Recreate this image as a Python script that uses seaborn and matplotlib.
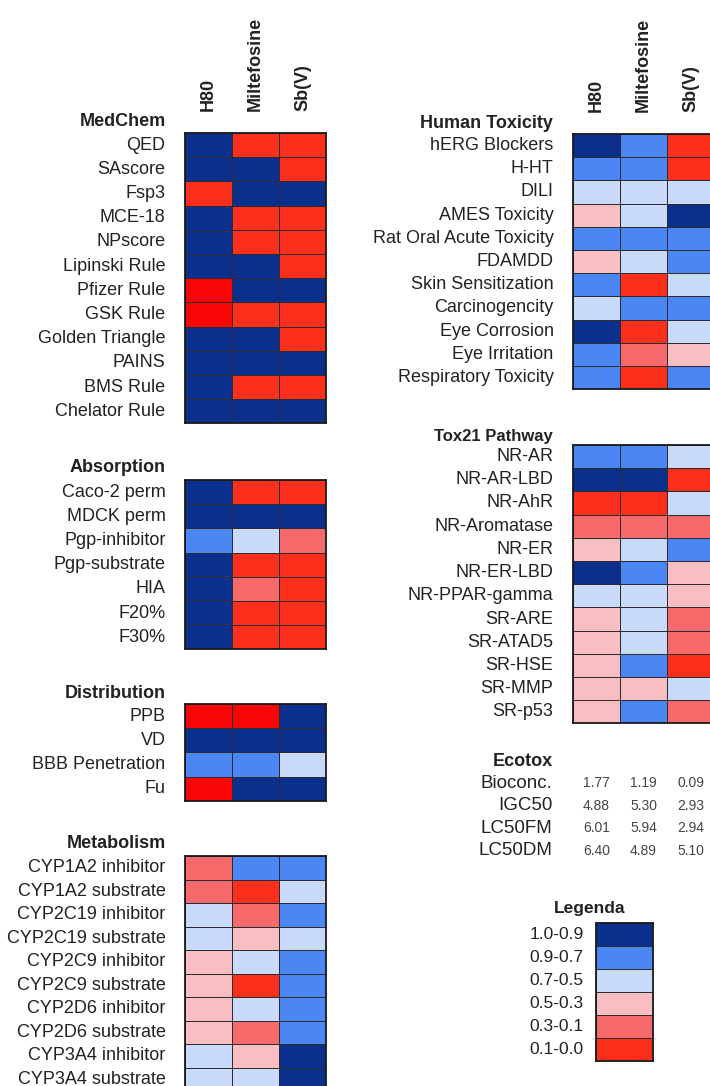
import pandas as pd
import seaborn as sns
import matplotlib.pyplot as plt
from matplotlib.colors import ListedColormap, BoundaryNorm

# probability classes (1.0-0.9 ... 0.1-0.0); 0.0 marks the few pure-red cells
D, M, L, P, S, R, RR = 0.95, 0.8, 0.6, 0.4, 0.2, 0.05, 0.0

compounds = ["H80", "Miltefosine", "Sb(V)"]

medchem_rows = ["QED", "SAscore", "Fsp3", "MCE-18", "NPscore", "Lipinski Rule",
                "Pfizer Rule", "GSK Rule", "Golden Triangle", "PAINS", "BMS Rule",
                "Chelator Rule"]
medchem_vals = [[D, R, R], [D, D, R], [R, D, D], [D, R, R], [D, R, R], [D, D, R],
                [RR, D, D], [RR, R, R], [D, D, R], [D, D, D], [D, R, R], [D, D, D]]

absorption_rows = ["Caco-2 perm", "MDCK perm", "Pgp-inhibitor", "Pgp-substrate",
                   "HIA", "F20%", "F30%"]
absorption_vals = [[D, R, R], [D, D, D], [M, L, S], [D, R, R], [D, S, R],
                   [D, R, R], [D, R, R]]

distribution_rows = ["PPB", "VD", "BBB Penetration", "Fu"]
distribution_vals = [[RR, RR, D], [D, D, D], [M, M, L], [RR, D, D]]

metabolism_rows = ["CYP1A2 inhibitor", "CYP1A2 substrate", "CYP2C19 inhibitor",
                   "CYP2C19 substrate", "CYP2C9 inhibitor", "CYP2C9 substrate",
                   "CYP2D6 inhibitor", "CYP2D6 substrate", "CYP3A4 inhibitor",
                   "CYP3A4 substrate"]
metabolism_vals = [[S, M, M], [S, R, L], [L, S, M], [L, P, L], [P, L, M],
                   [P, R, M], [P, L, M], [P, S, M], [L, P, D], [L, L, D]]

toxicity_rows = ["hERG Blockers", "H-HT", "DILI", "AMES Toxicity",
                 "Rat Oral Acute Toxicity", "FDAMDD", "Skin Sensitization",
                 "Carcinogencity", "Eye Corrosion", "Eye Irritation",
                 "Respiratory Toxicity"]
toxicity_vals = [[D, M, R], [M, M, R], [L, L, L], [P, L, D], [M, M, M], [P, L, M],
                 [M, R, L], [L, M, M], [D, R, L], [M, S, P], [M, R, M]]

tox21_rows = ["NR-AR", "NR-AR-LBD", "NR-AhR", "NR-Aromatase", "NR-ER", "NR-ER-LBD",
              "NR-PPAR-gamma", "SR-ARE", "SR-ATAD5", "SR-HSE", "SR-MMP", "SR-p53"]
tox21_vals = [[M, M, L], [D, D, R], [R, R, L], [S, S, S], [P, L, M], [D, M, P],
              [L, L, P], [P, L, S], [P, L, S], [P, M, R], [P, P, L], [P, M, S]]

ecotox_rows = ["Bioconc.", "IGC50", "LC50FM", "LC50DM"]
ecotox_vals = [[1.77, 1.19, 0.09], [4.88, 5.30, 2.93], [6.01, 5.94, 2.94],
               [6.40, 4.89, 5.10]]

legend_labels = ["1.0-0.9", "0.9-0.7", "0.7-0.5", "0.5-0.3", "0.3-0.1", "0.1-0.0"]
legend_vals = [D, M, L, P, S, R]

colors = ["#fa0505", "#fc2f1c", "#f76a6b", "#f9bec1", "#c8d9fa", "#4a86f4", "#0b2f8d"]
cmap = ListedColormap(colors)
norm = BoundaryNorm([-0.01, 0.01, 0.1, 0.3, 0.5, 0.7, 0.9, 1.0], cmap.N)

W, H = 710, 1086
TXT = "#222222"

sns.set_theme(style="white")
plt.rcParams["font.family"] = ["Liberation Sans", "DejaVu Sans"]

fig = plt.figure(figsize=(W / 100, H / 100), dpi=100)
fig.patch.set_facecolor("white")


def add_ax(left, top, width, height):
    return fig.add_axes([left / W, 1 - (top + height) / H, width / W, height / H])


def frame(ax):
    for sp in ax.spines.values():
        sp.set_visible(True)
        sp.set_linewidth(1.3)
        sp.set_color("#1a1a1a")


def draw_block(rows, vals, left, top, row_h, title, title_y, title_x, title_size=13,
               headers=False):
    df = pd.DataFrame(vals, index=rows, columns=compounds)
    ax = add_ax(left, top, 141, row_h * len(rows))
    sns.heatmap(df, ax=ax, cmap=cmap, norm=norm, cbar=False, linewidths=0.7,
                linecolor="#2b2b2b", xticklabels=headers, yticklabels=True)
    ax.tick_params(axis="y", length=0, pad=14, labelsize=13, labelcolor=TXT)
    for lab in ax.get_yticklabels():
        lab.set_rotation(0)
        lab.set_ha("right")
    if headers:
        ax.xaxis.tick_top()
        ax.tick_params(axis="x", length=0, pad=16, labelsize=13, labelcolor=TXT)
        for lab in ax.get_xticklabels():
            lab.set_rotation(90)
            lab.set_fontweight("bold")
            lab.set_va("bottom")
            lab.set_ha("center")
    ax.set_xlabel("")
    ax.set_ylabel("")
    frame(ax)
    fig.text(title_x / W, 1 - title_y / H, title, ha="right", va="center",
             fontsize=title_size, fontweight="bold", color=TXT)
    return ax


# left column
draw_block(medchem_rows, medchem_vals, 185, 133, 24.2, "MedChem", 122, 166, headers=True)
draw_block(absorption_rows, absorption_vals, 185, 480, 24.2, "Absorption", 468, 166)
draw_block(distribution_rows, distribution_vals, 185, 704, 24.2, "Distribution", 693, 166)
draw_block(metabolism_rows, metabolism_vals, 185, 856, 23.5, "Metabolism", 843, 166)

# right column
draw_block(toxicity_rows, toxicity_vals, 573, 134, 23.2, "Human Toxicity", 123, 553,
           headers=True)
draw_block(tox21_rows, tox21_vals, 573, 445, 23.2, "Tox21 Pathway", 436, 553,
           title_size=12)

# ecotox values (plain text table)
eco = pd.DataFrame(ecotox_vals, index=ecotox_rows, columns=compounds)
ax_e = add_ax(573, 772, 141, 22.5 * len(ecotox_rows))
sns.heatmap(eco, ax=ax_e, cmap=ListedColormap(["white"]), cbar=False, annot=True,
            fmt=".2f", annot_kws={"size": 10, "color": "#444444"},
            xticklabels=False, yticklabels=True)
ax_e.tick_params(axis="y", length=0, pad=15, labelsize=13.5, labelcolor=TXT)
for lab in ax_e.get_yticklabels():
    lab.set_rotation(0)
    lab.set_ha("right")
ax_e.set_xlabel("")
ax_e.set_ylabel("")
fig.text(553 / W, 1 - 761 / H, "Ecotox", ha="right", va="center", fontsize=13,
         fontweight="bold", color=TXT)

# legend
leg = pd.DataFrame({"v": legend_vals}, index=legend_labels)
ax_l = add_ax(596, 923, 57, 23 * len(legend_labels))
sns.heatmap(leg, ax=ax_l, cmap=cmap, norm=norm, cbar=False, linewidths=0.7,
            linecolor="#2b2b2b", xticklabels=False, yticklabels=True)
ax_l.tick_params(axis="y", length=0, pad=9, labelsize=12.5, labelcolor=TXT)
for lab in ax_l.get_yticklabels():
    lab.set_rotation(0)
    lab.set_ha("right")
ax_l.set_xlabel("")
ax_l.set_ylabel("")
frame(ax_l)
fig.text(590 / W, 1 - 908 / H, "Legenda", ha="center", va="center", fontsize=12.5,
         fontweight="bold", color=TXT)

fig.savefig("out.png", dpi=100, facecolor="white")
